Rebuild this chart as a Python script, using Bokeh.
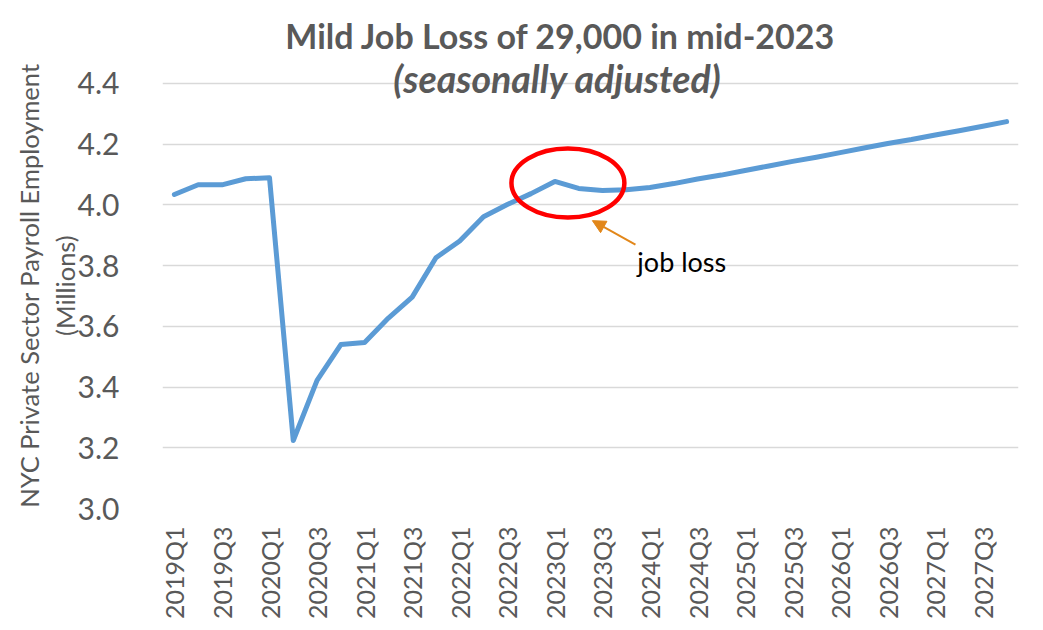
import math
from bokeh.plotting import figure
from bokeh.models import (Range1d, FixedTicker, Label, Arrow, NormalHead, ColumnDataSource,
                          PrintfTickFormatter)
from bokeh.embed import file_html
from bokeh.resources import INLINE

# ---- data ----
quarters = ["2019Q1", "2019Q2", "2019Q3", "2019Q4",
            "2020Q1", "2020Q2", "2020Q3", "2020Q4",
            "2021Q1", "2021Q2", "2021Q3", "2021Q4",
            "2022Q1", "2022Q2", "2022Q3", "2022Q4",
            "2023Q1", "2023Q2", "2023Q3", "2023Q4",
            "2024Q1", "2024Q2", "2024Q3", "2024Q4",
            "2025Q1", "2025Q2", "2025Q3", "2025Q4",
            "2026Q1", "2026Q2", "2026Q3", "2026Q4",
            "2027Q1", "2027Q2", "2027Q3", "2027Q4"]
employment = [4.034, 4.066, 4.066, 4.086,
              4.089, 3.224, 3.422, 3.540,
              3.547, 3.627, 3.696, 3.826,
              3.881, 3.961, 4.001, 4.037,
              4.077, 4.054, 4.047, 4.050,
              4.057, 4.070, 4.085, 4.098,
              4.113, 4.128, 4.143, 4.157,
              4.172, 4.187, 4.202, 4.215,
              4.230, 4.244, 4.259, 4.274]
y_ticks = [3.0, 3.2, 3.4, 3.6, 3.8, 4.0, 4.2, 4.4]
title_text = "Mild Job Loss of 29,000 in mid-2023"
subtitle_text = "(seasonally adjusted)"
NB = "\u00a0" * 8
ylabel_text = "NYC Private Sector Payroll Employment" + NB + "\n(Millions)" + NB
note_text = "job loss"

FONT = "Lato"
GRAY = "#595959"
GRID = "#d9d9d9"
BLUE = "#5b9bd5"
ORANGE = "#e2871a"

idx = list(range(len(quarters)))
src = ColumnDataSource(dict(x=idx, y=employment, q=quarters))

# y range extends above the top tick so the (title) texts sit inside the plot area
p = figure(title=None, frame_width=856, frame_height=498,
           output_backend="svg", toolbar_location=None,
           x_range=Range1d(-0.5, len(quarters) - 0.5), y_range=Range1d(3.0, 4.64),
           min_border_left=162, min_border_right=17, min_border_top=10, min_border_bottom=112)
p.outline_line_color = None
p.background_fill_color = "white"
p.border_fill_color = "white"

# axes
p.xgrid.grid_line_color = None
p.ygrid.grid_line_color = GRID
p.ygrid.grid_line_width = 1.5
p.yaxis.ticker = FixedTicker(ticks=y_ticks)
p.yaxis.formatter = PrintfTickFormatter(format="%.1f")
p.yaxis.axis_line_color = None
p.yaxis.major_tick_line_color = None
p.yaxis.minor_tick_line_color = None
p.yaxis.major_tick_out = 0
p.yaxis.major_tick_in = 0
p.yaxis.major_label_text_font = FONT
p.yaxis.major_label_text_font_size = "30px"
p.yaxis.major_label_text_color = GRAY
p.yaxis.major_label_standoff = 43
p.yaxis.axis_label = ylabel_text
p.yaxis.axis_label_text_font = FONT
p.yaxis.axis_label_text_font_size = "25.5px"
p.yaxis.axis_label_text_font_style = "normal"
p.yaxis.axis_label_text_color = GRAY
p.yaxis.axis_label_standoff = -5

p.xaxis.ticker = FixedTicker(ticks=idx[::2])
p.xaxis.major_label_overrides = {i: quarters[i] for i in idx[::2]}
p.xaxis.major_label_orientation = math.pi / 2
p.xaxis.axis_line_color = None
p.xaxis.major_tick_line_color = None
p.xaxis.minor_tick_line_color = None
p.xaxis.major_tick_out = 0
p.xaxis.major_tick_in = 0
p.xaxis.major_label_text_font = FONT
p.xaxis.major_label_text_font_size = "25px"
p.xaxis.major_label_text_color = GRAY
p.xaxis.major_label_standoff = 18

# series
p.line("x", "y", source=src, line_width=5, line_color=BLUE,
       line_join="round", line_cap="round")

# annotations
p.ellipse(x=[16.55], y=[4.072], width=4.75, height=0.227,
          fill_color=None, line_color="#ff0000", line_width=4.5)
p.add_layout(Arrow(end=NormalHead(size=13, fill_color=ORANGE, line_color=ORANGE),
                   x_start=19.39, y_start=3.869, x_end=17.58, y_end=3.948,
                   line_color=ORANGE, line_width=2))
p.add_layout(Label(x=19.47, y=3.812, text=note_text, text_font=FONT,
                   text_font_size="27px", text_color="black",
                   text_align="left", text_baseline="alphabetic"))
p.add_layout(Label(x=16.24, y=4.557, text=title_text, text_font=FONT,
                   text_font_size="34px", text_font_style="bold", text_color=GRAY,
                   text_align="center", text_baseline="alphabetic"))
p.add_layout(Label(x=16.11, y=4.415, text=subtitle_text, text_font=FONT,
                   text_font_size="37.5px", text_font_style="bold italic", text_color=GRAY,
                   text_align="center", text_baseline="alphabetic"))

open("out.html", "w").write(file_html(p, INLINE))
